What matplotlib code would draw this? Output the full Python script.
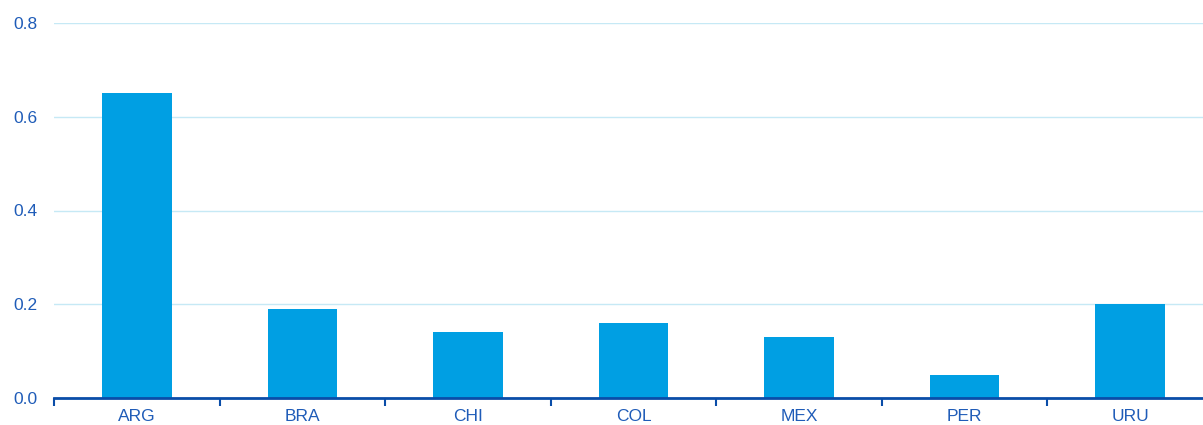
import matplotlib.pyplot as plt
from matplotlib.ticker import FixedLocator, NullFormatter

countries = ["ARG", "BRA", "CHI", "COL", "MEX", "PER", "URU"]
values = [0.65, 0.19, 0.14, 0.16, 0.13, 0.05, 0.20]
y_ticks = [0.0, 0.2, 0.4, 0.6, 0.8]

bar_color = "#009FE3"
text_color = "#1F5CB8"
axis_color = "#0A4DA8"
grid_color = "#C6E9F5"

plt.rcParams["font.family"] = ["Liberation Sans", "DejaVu Sans"]

fig = plt.figure(figsize=(12.03, 4.25), dpi=100)
# axes runs slightly past the right edge, like the original
ax = fig.add_axes([54 / 1203, 27 / 425, 1159 / 1203, 375 / 425])

x = list(range(len(countries)))
ax.bar(x, values, width=0.42, color=bar_color, zorder=3)

ax.set_xlim(-0.5, len(countries) - 0.5)
ax.set_ylim(0, 0.8)
ax.set_yticks(y_ticks)
ax.set_yticklabels([f"{v:.1f}" for v in y_ticks])
ax.set_xticks(x)
ax.set_xticklabels(countries)
ax.xaxis.set_minor_locator(FixedLocator([i - 0.5 for i in range(len(countries) + 1)]))
ax.xaxis.set_minor_formatter(NullFormatter())

ax.grid(axis="y", color=grid_color, linewidth=1, zorder=0)
for side in ["top", "right", "left"]:
    ax.spines[side].set_visible(False)
ax.spines["bottom"].set_color(axis_color)
ax.spines["bottom"].set_linewidth(2)
ax.spines["bottom"].set_zorder(4)

ax.tick_params(axis="y", length=0, pad=12, labelsize=12.5, labelcolor=text_color)
ax.tick_params(axis="x", which="major", length=0, pad=8, labelsize=12.5, labelcolor=text_color)
ax.tick_params(axis="x", which="minor", length=6, width=1.5, color=axis_color)

fig.savefig("out.png", dpi=100)
